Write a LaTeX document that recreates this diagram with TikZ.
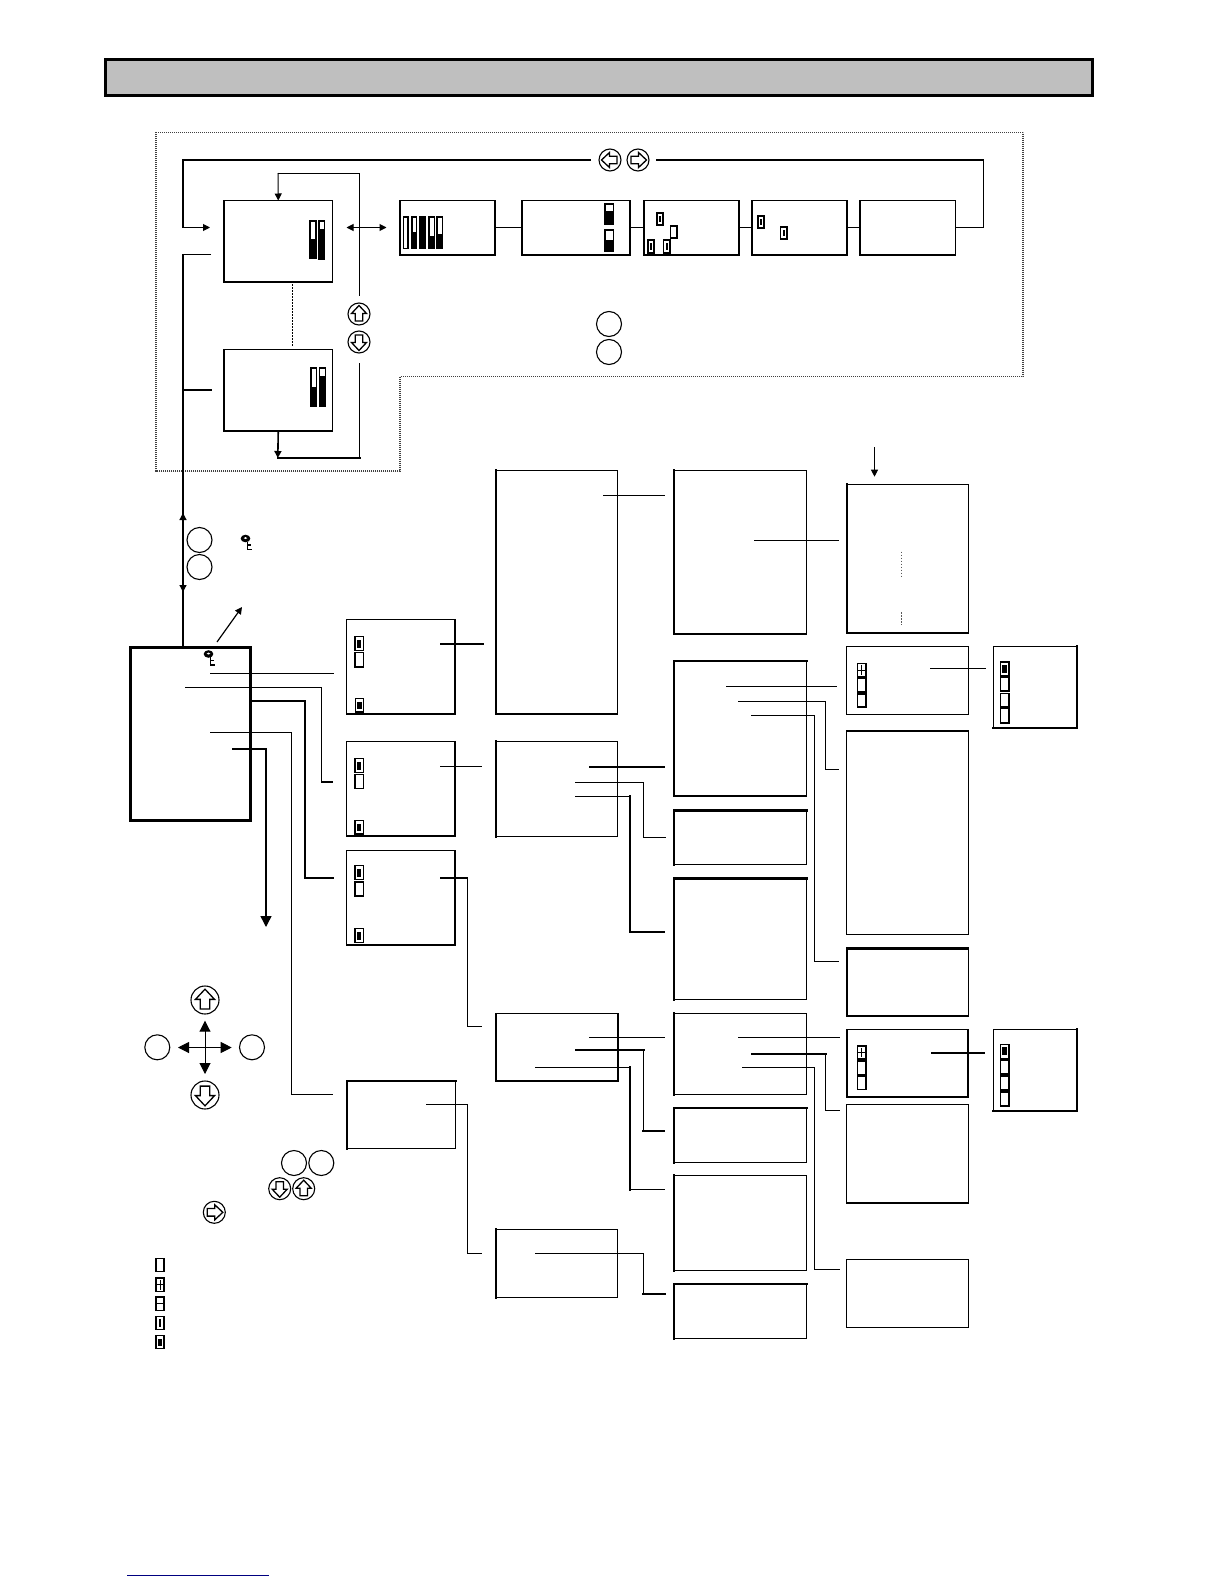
\documentclass[tikz,border=0pt]{standalone}
\usetikzlibrary{arrows.meta}
\tikzset{
  box/.style={draw=black,fill=white,line width=1.1pt,inner sep=0pt,outer sep=0pt,rectangle},
  boldbox/.style={line width=1.9pt},
  headbox/.style={line width=3pt,fill=black!25},
  edgebold/.style={line width=2.1pt,line cap=rect},
  w1/.style={line width=1pt,line cap=rect},
  w2/.style={line width=2.1pt,line cap=rect},
  tipS/.style={-{Triangle[length=7pt,width=7pt]}},
  tipB/.style={-{Triangle[length=11pt,width=11pt]}},
  zone/.style={draw=black!75,line width=1.2pt,dash pattern=on 1pt off 1pt},
  sep/.style={draw=black,line width=.9pt,dash pattern=on 1.5pt off 1.5pt},
  ring/.style={circle,draw=black,line width=1.1pt,inner sep=0pt,outer sep=0pt,fill=white},
  swbox/.style={draw=black,fill=white,line width=1.6pt},
}
\newcommand{\bx}[6][]{%
  \pgfmathsetmacro\bw{#5-#3}\pgfmathsetmacro\bh{#6-#4}%
  \node[box,#1,minimum width=\bw pt,minimum height=\bh pt] (#2) at ({(#3+#5)/2},{(#4+#6)/2}) {};}
% arrow key: name, x, y, r, rotation
\newcommand{\akey}[5]{%
  \node[ring,minimum size=#4*2pt] (#1) at (#2,#3) {};
  \begin{scope}[shift={(#2,#3)},rotate=#5,scale=#4/11]
    \draw[line width=1.3pt,line join=miter,fill=white] (0,-8.5)--(7.5,-.5)--(3.8,-.5)--(3.8,7)--(-3.8,7)--(-3.8,-.5)--(-7.5,-.5)--cycle;
  \end{scope}}
\newcommand{\pkey}[3]{\node[ring,minimum size=25pt] (#1) at (#2,#3) {};}
% switch icons
\newcommand{\swE}[4]{\draw[swbox] (#1,#2) rectangle (#3,#4);}
\newcommand{\swS}[4]{\draw[swbox] (#1,#2) rectangle (#3,#4);
  \fill[black] ({(#1+#3)/2-2.2},{#2+3}) rectangle ({(#1+#3)/2+2.2},{#4-3});}
\newcommand{\swN}[4]{\draw[swbox] (#1,#2) rectangle (#3,#4);
  \fill[black] ({(#1+#3)/2-.9},{#2+3}) rectangle ({(#1+#3)/2+.9},{#4-3});}
\newcommand{\swT}[4]{\draw[swbox] (#1,#2) rectangle (#3,#4);
  \fill[black] ({(#1+#3)/2-1},{#2+2.5}) rectangle ({(#1+#3)/2+1},{#4-2.5});}
\newcommand{\swP}[4]{\draw[swbox] (#1,#2) rectangle (#3,#4);
  \draw[line width=1pt] (#1,{(#2+#4)/2})--(#3,{(#2+#4)/2}) ({(#1+#3)/2},{#2+2})--({(#1+#3)/2},{#4-2});}
\newcommand{\swH}[4]{\draw[swbox] (#1,#2) rectangle (#3,#4);
  \draw[line width=1.2pt] (#1,{(#2+#4)/2})--(#3,{(#2+#4)/2});}
% vertical gauge: x1,y1,x2,y2,y of white/black split
\newcommand{\gbar}[5]{\fill[black] (#1,#2) rectangle (#3,#4);
  \fill[white] ({#1+1.5},{#2+1.5}) rectangle ({#3-1.5},#5);}
\newcommand{\keyg}[2]{%
  \begin{scope}[shift={(#1,#2)}]
    \fill[black] (0,0) ellipse (4.8pt and 3.8pt);
    \fill[white] (0,-.4) ellipse (1.8pt and 1pt);
    \draw[line width=1.8pt] (2,3)--(2,11)--(6.5,11) (2,6.5)--(5.5,6.5);
  \end{scope}}
\begin{document}
\begin{tikzpicture}[x=1pt,y=-1pt]
\path[fill=white,use as bounding box] (0,0) rectangle (1224,1584);

% title band
\bx[headbox]{head}{105.5}{59.5}{1092}{95.5}

% dotted zone
\coordinate (z1) at (156,132.5); \coordinate (z2) at (1023,132.5); \coordinate (z3) at (1023,376.5);
\coordinate (z4) at (400,376.5); \coordinate (z5) at (400,471); \coordinate (z6) at (156,471);
\draw[zone] (z1)--(z2)--(z3)--(z4)--(z5)--(z6)--cycle;

% display boxes of the upper loop
\bx[boldbox]{d1}{224}{200.5}{332.5}{282}
\bx[boldbox]{d2}{224}{349.5}{332.5}{431}
\bx[boldbox]{b3}{399.6}{200.5}{495.4}{255}
\bx[boldbox]{b4}{522}{200.5}{630.4}{255}
\bx[boldbox]{b5}{644}{200.5}{739}{255}
\bx[boldbox]{b6}{752}{200.5}{847}{255}
\bx[boldbox]{b7}{860}{200.5}{955.5}{255}

% main menu and branches
\bx[line width=2.8pt]{main}{130.5}{647.5}{250.5}{820.5}
\bx{mA}{346.7}{619.5}{455}{714}
\bx{mB}{346.7}{741.5}{455}{836}
\bx{mC}{346.7}{850.5}{455}{945}
\bx{mD}{347}{1081}{455.7}{1148.7}
\bx{cE}{496}{470.5}{617.5}{714}
\bx{cF}{496}{741.5}{617.5}{836.5}
\bx[boldbox]{cP}{496}{1013.5}{618}{1081}
\bx{cU}{496}{1229.5}{617.5}{1297.5}
\bx{gJ}{673.7}{470.5}{806.7}{634}
\bx{gG}{673.7}{661}{806.7}{796}
\bx{gH}{673.7}{810.5}{806.7}{864.5}
\bx{gI}{673.7}{878.5}{806.7}{999.5}
\bx{gQ}{673.7}{1013.5}{806.7}{1094.5}
\bx{gR}{673.7}{1108}{806.7}{1162.5}
\bx{gS}{673.7}{1175.5}{806.7}{1270.5}
\bx{gT}{673.7}{1284}{806.7}{1338.5}
\bx{kK}{846.7}{484.5}{968.3}{633.3}
\bx{kL}{846.7}{646.5}{968.3}{714.5}
\bx{kN}{846.7}{731}{968.3}{934.5}
\bx{kO}{846.7}{948.5}{968.3}{1016}
\bx[boldbox]{kV}{846.7}{1029.5}{968.3}{1097.3}
\bx{kW}{846.7}{1104.5}{968.3}{1202.7}
\bx{kX}{846.7}{1259.5}{968.3}{1327.5}
\bx{fM}{993.3}{646.5}{1077.3}{727.7}
\bx{fY}{993.3}{1029.5}{1077.3}{1111}

% heavier edges
\foreach \n in {mD,cE,cF,cU,gJ,gG,gH,gI,gQ,gR,gS,gT,kK,kO}{\draw[edgebold] (\n.north west)--(\n.south west);}
\foreach \n in {mD,gG,gH,gI,gR,gT,kN,kO}{\draw[edgebold] (\n.north west)--(\n.north east);}
\foreach \n in {kK,kW,fM,fY}{\draw[edgebold] (\n.south west)--(\n.south east);}
\foreach \n in {fM,fY}{\draw[edgebold] (\n.north east)--(\n.south east);}
\foreach \n in {mA}{\draw[line width=1.6pt] (\n.north east)--(\n.south east);}

% gauges
\gbar{309}{220}{316.5}{259}{239}
\gbar{318}{220}{325}{260}{229}
\gbar{310}{367}{317}{407}{387}
\gbar{318.6}{367}{326}{407}{376}
\gbar{402.5}{216}{408.5}{249}{247.5}
\gbar{411}{216}{417}{249}{232}
\fill[black] (419,216) rectangle (426,249);
\gbar{428}{216}{435}{249}{236}
\gbar{436}{216}{443}{249}{234}
\gbar{604}{203}{614}{225}{211}
\gbar{604}{229}{614}{252}{240}

% switches in the loop boxes
\swN{657}{213}{663}{225}
\swE{670.5}{226}{677}{238}
\swN{648}{240}{654}{253}
\swN{663.5}{240}{670}{253}
\swN{758}{216}{764}{228}
\swN{780.5}{227}{787}{239}

% switches in branch boxes
\swS{355}{636.5}{363.5}{650.5}\swE{355}{652.5}{363.5}{667}\swS{355.5}{698.5}{363.5}{712}
\swS{355}{758.5}{363.5}{772.5}\swE{355}{774.5}{363.5}{788.5}\swS{355}{820.5}{363.5}{834}
\swS{355}{865.5}{363.5}{879.5}\swE{355}{882}{363.5}{896}\swS{355}{928.5}{363.5}{942.5}

\swP{857.3}{663.3}{865.7}{676.7}\swE{857.3}{678.3}{865.7}{693}\swE{857.3}{694}{865.7}{707}
\fill[black] (857.3,691) rectangle (865.7,694.5);
\swS{1000.3}{661.7}{1008.7}{675.7}\swE{1000.3}{677.3}{1008.7}{690.7}\swE{1000.3}{693.3}{1008.7}{706.7}\swE{1000.3}{708.3}{1008.7}{722.7}

\swP{857.3}{1045.7}{865.7}{1059}\swE{857.3}{1059}{865.7}{1074.3}\swE{857.3}{1076}{865.7}{1089.3}
\fill[black] (857.3,1058.5) rectangle (865.7,1062);
\swS{1000.3}{1044.3}{1008.7}{1058.3}\swE{1000.3}{1060}{1008.7}{1074}\swE{1000.3}{1076}{1008.7}{1090}\swE{1000.3}{1091.7}{1008.7}{1105.7}

% legend
\swE{155.8}{1258.5}{164.2}{1271.5}
\swP{155.8}{1278}{164.2}{1291.5}
\swH{155.8}{1297}{164.2}{1310.5}
\swT{155.8}{1316.5}{164.2}{1329.5}
\swS{155.8}{1335.5}{164.2}{1348.5}

% dotted marks
\coordinate (s1) at (292,284); \coordinate (s2) at (292,347);
\draw[sep] (s1)--(s2);
\coordinate (s3) at (901,551.7); \coordinate (s4) at (901,578.3);
\coordinate (s5) at (901,612.3); \coordinate (s6) at (901,625);
\draw[sep,draw=black!65] (s3)--(s4) (s5)--(s6);

% buttons
\akey{kl}{610}{160}{11}{90}
\akey{kr}{638}{160}{11}{-90}
\akey{ku}{359}{314}{11}{0}
\akey{kd}{359}{342}{11}{180}
\pkey{p1}{609}{324}
\pkey{p2}{609}{352}
\pkey{p3}{199.5}{540}
\pkey{p4}{199.5}{567}
\akey{cu}{205}{1000}{14}{0}
\akey{cd}{205}{1095}{14}{180}
\pkey{cl}{157.3}{1047.3}
\pkey{cr}{252}{1047.3}
\pkey{p5}{294}{1163}
\pkey{p6}{321.3}{1163}
\akey{k1}{279.7}{1188.7}{11}{180}
\akey{k2}{303.7}{1188.7}{11}{0}
\akey{k3}{214.3}{1212.3}{11}{-90}
\keyg{245.5}{538.5}
\keyg{208.5}{654}

% upper loop connectors
\draw[w1] (b3.east)--(b4.west);
\draw[w1] (b4.east)--(b5.west);
\draw[w1] (b5.east)--(b6.west);
\draw[w1] (b6.east)--(b7.west);
\coordinate (t1) at (983,160); \coordinate (t2) at (657,160);
\coordinate (t3) at (590,160); \coordinate (t4) at (183,160); \coordinate (t5) at (183,227.5); \coordinate (t6) at (210,227.5);
\draw[w1] (b7.east)-|(t1);
\draw[w2] (t1)--(t2);
\draw[w2] (t3)--(t4);
\draw[line width=1.6pt] (t4)--(t5);
\draw[w1,tipS] (t5)--(t6);

% up/down loop
\coordinate (u1) at (359.5,295); \coordinate (u2) at (359.5,173.5); \coordinate (u3) at (278,173.5);
\draw[w1] (u1)--(u2)--(u3);
\draw[w1,tipS] (u3)--(d1.north);
\coordinate (u4) at (359.5,363); \coordinate (u5) at (359.5,458); \coordinate (u6) at (277.8,458);
\draw[w1] (u4)--(u5);
\draw[w2] (u5)--(u6);
\draw[line width=1.6pt,tipS] (d2.south)--(u6);

% left-right arrow
\coordinate (h1) at (346.5,227.5); \coordinate (h2) at (386.5,227.5);
\draw[w1,{Triangle[length=7pt,width=7pt]}-{Triangle[length=7pt,width=7pt]}] (h1)--(h2);

% trunk
\coordinate (v1) at (183,254.5); \coordinate (v2) at (211,254.5); \coordinate (v3) at (183,390); \coordinate (v4) at (211,390);
\coordinate (v5) at (183,646);
\draw[line width=1.6pt] (v2)--(v1)--(v5);
\draw[w2] (v3)--(v4);
\coordinate (v6) at (183,530); \coordinate (v7) at (183,513);
\coordinate (v8) at (183,575); \coordinate (v9) at (183,592);
\draw[line width=1.2pt,tipS] (v6)--(v7);
\draw[line width=1.2pt,tipS] (v8)--(v9);
\coordinate (dg1) at (217,642); \coordinate (dg2) at (242,607);
\draw[line width=1.2pt,tipS] (dg1)--(dg2);

% main menu connectors
\coordinate (a1) at (210,673.5); \coordinate (a2) at (333,673.5);
\draw[w1] (a1)--(a2);
\coordinate (a3) at (185,687.5); \coordinate (a4) at (321.5,782); \coordinate (a5) at (333,782);
\draw[w1] (a3)-|(a4);
\draw[line width=1.6pt] (a4)--(a5);
\coordinate (a6) at (251,701); \coordinate (a7) at (305,878); \coordinate (a8) at (333,878);
\draw[w2] (a6)-|(a7)--(a8);
\coordinate (a9) at (210,732.5); \coordinate (a10) at (291.5,1094.5); \coordinate (a11) at (332.7,1094.5);
\draw[w1] (a9)-|(a10)--(a11);
\coordinate (a12) at (233,749); \coordinate (a13) at (266,749); \coordinate (a14) at (266,927);
\draw[w2] (a12)--(a13);
\draw[line width=1.4pt,tipB] (a13)--(a14);

% branch boxes to column boxes
\coordinate (m1) at (441,644); \coordinate (m2) at (482.7,644);
\draw[w2] (m1)--(m2);
\coordinate (m3) at (440,766.5); \coordinate (m4) at (481.7,766.5);
\draw[w1] (m3)--(m4);
\coordinate (m5) at (440,878); \coordinate (m6) at (467.5,878); \coordinate (m7) at (467.5,1026.5); \coordinate (m8) at (481,1026.5);
\draw[line width=1.6pt] (m5)--(m6);
\draw[w1] (m6)--(m7)--(m8);
\coordinate (m9) at (426.7,1104.5); \coordinate (m10) at (467.5,1253.5); \coordinate (m11) at (481,1253.5);
\draw[w1] (m9)-|(m10)--(m11);

% column E, F, P, U connectors
\coordinate (e1) at (603,495.5); \coordinate (e2) at (664.5,495.5);
\draw[w1] (e1)--(e2);
\coordinate (f1) at (590,767); \coordinate (f2) at (664,767);
\draw[w2] (f1)--(f2);
\coordinate (f3) at (575.7,782.5); \coordinate (f4) at (643.5,837.5); \coordinate (f5) at (665.7,837.5);
\draw[w1] (f3)-|(f4)--(f5);
\coordinate (f6) at (575.7,796.5); \coordinate (f7) at (630,796.5); \coordinate (f8) at (630,932); \coordinate (f9) at (664,932);
\draw[w1] (f6)--(f7);
\draw[w2] (f7)--(f8)--(f9);
\coordinate (q1) at (589,1037.5); \coordinate (q2) at (664,1037.5);
\draw[w1] (q1)--(q2);
\coordinate (q3) at (575.7,1050); \coordinate (q4) at (643.5,1050); \coordinate (q5) at (643.5,1131); \coordinate (q6) at (664,1131);
\draw[w2] (q3)--(q4);
\draw[w1] (q4)--(q5);
\draw[w2] (q5)--(q6);
\coordinate (q7) at (535,1067.5); \coordinate (q8) at (630,1067.5); \coordinate (q9) at (630,1189.5); \coordinate (q10) at (664,1189.5);
\draw[w1] (q7)--(q8);
\draw[w2] (q8)--(q9);
\draw[w1] (q9)--(q10);
\coordinate (r1) at (535,1253.5); \coordinate (r2) at (643.5,1253.5); \coordinate (r3) at (643.5,1294); \coordinate (r4) at (665,1294);
\draw[w1] (r1)--(r2)--(r3);
\draw[w2] (r3)--(r4);

% column J, G, Q connectors
\coordinate (j1) at (754,540.5); \coordinate (j2) at (838,540.5);
\draw[w1] (j1)--(j2);
\coordinate (g1) at (726.7,686.5); \coordinate (g2) at (836,686.5);
\draw[w1] (g1)--(g2);
\coordinate (g3) at (738.3,701.5); \coordinate (g4) at (825.5,769.5); \coordinate (g5) at (838,769.5);
\draw[w1] (g3)-|(g4)--(g5);
\coordinate (g6) at (751.7,715.5); \coordinate (g7) at (814.5,961.5); \coordinate (g8) at (838,961.5);
\draw[w1] (g6)-|(g7)--(g8);
\coordinate (n1) at (738.3,1037.5); \coordinate (n2) at (839,1037.5);
\draw[w1] (n1)--(n2);
\coordinate (n3) at (751.7,1053.7); \coordinate (n4) at (825.5,1053.7); \coordinate (n5) at (825.5,1110.5); \coordinate (n6) at (839,1110.5);
\draw[w2] (n3)--(n4);
\draw[w1] (n4)--(n5)--(n6);
\coordinate (n7) at (742.3,1067.5); \coordinate (n8) at (814.5,1269.5); \coordinate (n9) at (839,1269.5);
\draw[w1] (n7)-|(n8)--(n9);

% K input and M, Y links
\coordinate (k1) at (874.5,447.5); \coordinate (k2) at (874.5,476.7);
\draw[w1,tipS] (k1)--(k2);
\coordinate (l1) at (930,668.5); \coordinate (l2) at (985.7,668.5);
\draw[w1] (l1)--(l2);
\coordinate (l3) at (932.3,1052.7); \coordinate (l4) at (983.7,1052.7);
\draw[w2] (l3)--(l4);

% cross of arrows
\coordinate (x3) at (205,1020.7); \coordinate (x4) at (205,1074);
\draw[w1,{Triangle[length=11pt,width=11pt]}-{Triangle[length=11pt,width=11pt]}] (x3)--(x4);
\coordinate (x1) at (178,1047.5); \coordinate (x2) at (231.7,1047.5);
\draw[w1,{Triangle[length=11pt,width=11pt]}-{Triangle[length=11pt,width=11pt]}] (x1)--(x2);

% footer rule
\coordinate (y1) at (127,1575.5); \coordinate (y2) at (269,1575.5);
\draw[line width=1pt,draw={rgb,255:red,0;green,0;blue,128}] (y1)--(y2);
\end{tikzpicture}
\end{document}
